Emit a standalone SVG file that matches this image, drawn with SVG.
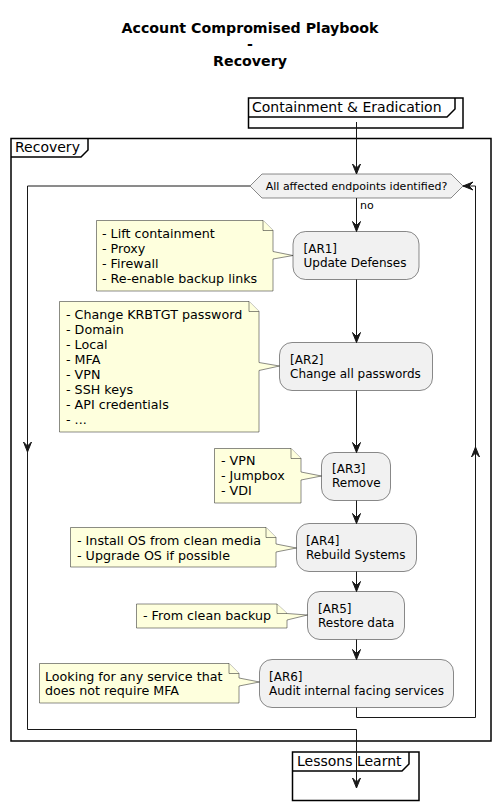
<svg xmlns="http://www.w3.org/2000/svg" width="501" height="810" viewBox="0 0 501 810">
<style>
.t{font-family:"DejaVu Sans",sans-serif;fill:#000}
.title{font-size:14.2px;font-weight:bold;text-anchor:middle}
.ft{font-size:14px}
.act{fill:#F1F1F1;stroke:#181818;stroke-width:0.5}
.at{font-size:12px}
.note{fill:#FEFFDD;stroke:#181818;stroke-width:0.5}
.nt{font-size:12.7px}
.frame{fill:none;stroke:#000;stroke-width:1.5}
.ln{fill:none;stroke:#181818;stroke-width:1}
.ah{fill:#181818;stroke:#181818;stroke-width:1}
</style>
<rect width="501" height="810" fill="#FFFFFF"/>
<g id="title">
<text class="t title" x="250" y="33">Account Compromised Playbook</text>
<text class="t title" x="250" y="49">-</text>
<text class="t title" x="250" y="66">Recovery</text>
</g>
<g id="containment">
<rect class="frame" x="248.5" y="98" width="214.5" height="30"/>
<path class="frame" d="M248.5,117 H447 L455,109 V98"/>
<text class="t ft" x="252" y="112">Containment &amp; Eradication</text>
</g>
<g id="recovery">
<rect class="frame" x="11" y="138.5" width="480" height="602.5"/>
<path class="frame" d="M11,157 H81 L88,150 V138.5"/>
<text class="t ft" x="15" y="152">Recovery</text>
</g>
<g id="lessons">
<rect class="frame" x="292.5" y="752" width="126.5" height="48.5"/>
<path class="frame" d="M292.5,771 H402 L409,764 V752"/>
<text class="t ft" x="297" y="766">Lessons Learnt</text>
</g>
<g id="decision">
<polygon class="act" points="250,186 262,174 451,174 463,186 451,198 262,198"/>
<text class="t" font-size="11" x="356.5" y="190" text-anchor="middle">All affected endpoints identified?</text>
</g>
<g id="AR1">
<rect class="act" x="293" y="231.5" width="126" height="48" rx="12.5"/>
<text class="t at" x="303.5" y="252.5">[AR1]</text>
<text class="t at" x="303.5" y="266.5">Update Defenses</text>
</g>
<g id="note1">
<path class="note" d="M96.5,220.5 H263 L273,230.5 V251.5 L293,255.5 L273,259 V291 H96.5 Z"/>
<path class="note" d="M263,220.5 V230.5 H273"/>
<text class="t nt" x="102" y="238">- Lift containment</text>
<text class="t nt" x="102" y="253">- Proxy</text>
<text class="t nt" x="102" y="268">- Firewall</text>
<text class="t nt" x="102" y="283">- Re-enable backup links</text>
</g>
<g id="AR2">
<rect class="act" x="279.5" y="342.5" width="153" height="48" rx="12.5"/>
<text class="t at" x="290" y="364">[AR2]</text>
<text class="t at" x="290" y="378">Change all passwords</text>
</g>
<g id="note2">
<path class="note" d="M59.5,301.5 H249 L259,311.5 V362.5 L279.5,366 L259,370.5 V432 H59.5 Z"/>
<path class="note" d="M249,301.5 V311.5 H259"/>
<text class="t nt" x="66" y="318.5">- Change KRBTGT password</text>
<text class="t nt" x="66" y="333.5">- Domain</text>
<text class="t nt" x="66" y="348.5">- Local</text>
<text class="t nt" x="66" y="363.5">- MFA</text>
<text class="t nt" x="66" y="378.5">- VPN</text>
<text class="t nt" x="66" y="393.5">- SSH keys</text>
<text class="t nt" x="66" y="408.5">- API credentials</text>
<text class="t nt" x="66" y="423.5">- ...</text>
</g>
<g id="AR3">
<rect class="act" x="321.5" y="452.5" width="69" height="48" rx="12.5"/>
<text class="t at" x="332" y="473">[AR3]</text>
<text class="t at" x="332" y="487">Remove</text>
</g>
<g id="note3">
<path class="note" d="M214.5,448.5 H291 L301,458.5 V472 L321.5,476 L301,480 V503 H214.5 Z"/>
<path class="note" d="M291,448.5 V458.5 H301"/>
<text class="t nt" x="221" y="465">- VPN</text>
<text class="t nt" x="221" y="480">- Jumpbox</text>
<text class="t nt" x="221" y="495">- VDI</text>
</g>
<g id="AR4">
<rect class="act" x="296.5" y="523.5" width="120" height="48" rx="12.5"/>
<text class="t at" x="306" y="544.5">[AR4]</text>
<text class="t at" x="306" y="558.5">Rebuild Systems</text>
</g>
<g id="note4">
<path class="note" d="M70.5,527.5 H266 L276,537.5 V544 L296.5,548 L276,552 V567 H70.5 Z"/>
<path class="note" d="M266,527.5 V537.5 H276"/>
<text class="t nt" x="77" y="544.5">- Install OS from clean media</text>
<text class="t nt" x="77" y="559.5">- Upgrade OS if possible</text>
</g>
<g id="AR5">
<rect class="act" x="307.5" y="591.5" width="97" height="48" rx="12.5"/>
<text class="t at" x="318" y="613">[AR5]</text>
<text class="t at" x="318" y="627">Restore data</text>
</g>
<g id="note5">
<path class="note" d="M136.5,604 H277 L287,613.5 V613.5 L307.5,615 L287,620 V628 H136.5 Z"/>
<path class="note" d="M277,604 V613.5 H287"/>
<text class="t nt" x="143" y="620">- From clean backup</text>
</g>
<g id="AR6">
<rect class="act" x="259.5" y="659.5" width="194" height="48" rx="12.5"/>
<text class="t at" x="269" y="680.5">[AR6]</text>
<text class="t at" x="269" y="694.5">Audit internal facing services</text>
</g>
<g id="note6">
<path class="note" d="M39.5,663.5 H229 L239,673.5 V678 L259.5,682 L239,686 V703 H39.5 Z"/>
<path class="note" d="M229,663.5 V673.5 H239"/>
<text class="t nt" x="45" y="680.5">Looking for any service that</text>
<text class="t nt" x="45" y="695">does not require MFA</text>
</g>
<g id="connectors">
<path class="ln" d="M356.5,122 V174"/>
<polygon class="ah" points="352.5,164 356.5,174 360.5,164 356.5,168"/>
<path class="ln" d="M356.5,198 V231.5"/>
<polygon class="ah" points="352.5,221.5 356.5,231.5 360.5,221.5 356.5,225.5"/>
<text class="t" font-size="11" x="360" y="209">no</text>
<path class="ln" d="M356.5,279.5 V342.5"/>
<polygon class="ah" points="352.5,332.5 356.5,342.5 360.5,332.5 356.5,336.5"/>
<path class="ln" d="M356.5,390.5 V452.5"/>
<polygon class="ah" points="352.5,442.5 356.5,452.5 360.5,442.5 356.5,446.5"/>
<path class="ln" d="M356.5,500.5 V523.5"/>
<polygon class="ah" points="352.5,513.5 356.5,523.5 360.5,513.5 356.5,517.5"/>
<path class="ln" d="M356.5,571.5 V591.5"/>
<polygon class="ah" points="352.5,581.5 356.5,591.5 360.5,581.5 356.5,585.5"/>
<path class="ln" d="M356.5,639.5 V659.5"/>
<polygon class="ah" points="352.5,649.5 356.5,659.5 360.5,649.5 356.5,653.5"/>
<path class="ln" d="M356.5,707.5 V717.5 H475.5 V186 H463"/>
<polygon class="ah" points="471.5,457 475.5,447 479.5,457 475.5,453"/>
<polygon class="ah" points="473,182 463,186 473,190 469,186"/>
<path class="ln" d="M250,186 H27.5 V729.5 H356.5 V788"/>
<polygon class="ah" points="23.5,442 27.5,452 31.5,442 27.5,446"/>
<polygon class="ah" points="352.5,778 356.5,788 360.5,778 356.5,782"/>
</g>
</svg>
